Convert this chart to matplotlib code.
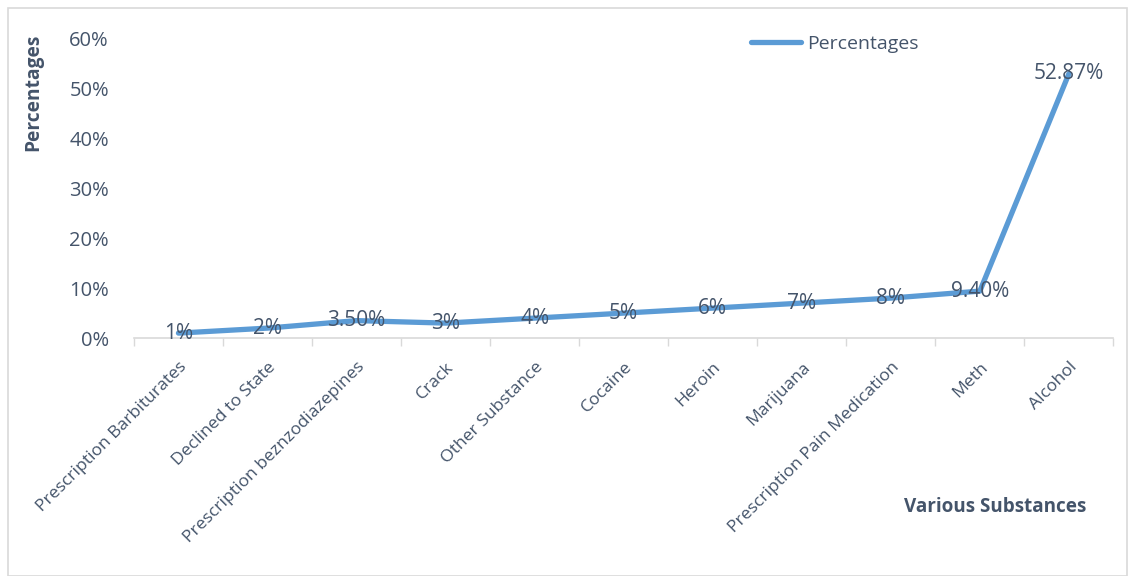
import matplotlib.pyplot as plt
from matplotlib.patches import Rectangle
from matplotlib.ticker import FuncFormatter

plt.rcParams['font.family'] = ['Open Sans', 'DejaVu Sans']

substances = ["Prescription Barbiturates", "Declined to State",
              "Prescription beznzodiazepines", "Crack", "Other Substance",
              "Cocaine", "Heroin", "Marijuana", "Prescription Pain Medication",
              "Meth", "Alcohol"]
shares = [0.01, 0.02, 0.035, 0.03, 0.04, 0.05, 0.06, 0.07, 0.08, 0.094, 0.5287]
value_labels = ["1%", "2%", "3.50%", "3%", "4%", "5%", "6%", "7%", "8%",
                "9.40%", "52.87%"]

text_col = "#44546A"
line_col = "#5B9BD5"
axis_col = "#D9D9D9"

fig = plt.figure(figsize=(11.35, 5.76), dpi=100)
ax = fig.add_axes([0.118, 0.413, 0.863, 0.521])

x = range(len(substances))
ax.plot(x, shares, color=line_col, lw=3.8, solid_capstyle="round",
        solid_joinstyle="round", label="Percentages")

for xi, v, lab in zip(x, shares, value_labels):
    ax.text(xi, v, lab, ha="center", va="center", fontsize=15,
            color=text_col)

ax.set_xlim(-0.5, len(substances) - 0.5)
ax.set_ylim(0, 0.6)
ax.set_yticks([0, 0.1, 0.2, 0.3, 0.4, 0.5, 0.6])
ax.yaxis.set_major_formatter(FuncFormatter(lambda v, p: f"{v * 100:.0f}%"))
ax.tick_params(axis="y", length=0, pad=18, labelsize=14.5, labelcolor=text_col)

ax.set_xticks(list(x))
ax.set_xticklabels(substances, rotation=45, ha="right",
                   rotation_mode="anchor", fontsize=12.6, color=text_col)
ax.set_xticks([i - 0.5 for i in range(len(substances) + 1)], minor=True)
ax.tick_params(axis="x", which="major", length=0, pad=15)
ax.tick_params(axis="x", which="minor", length=6, color=axis_col, width=1)

for side in ["top", "right", "left"]:
    ax.spines[side].set_visible(False)
ax.spines["bottom"].set_color(axis_col)
ax.spines["bottom"].set_linewidth(1.2)

fig.text(0.029, 0.84, "Percentages", rotation=90, ha="center", va="center",
         fontsize=13.8, fontweight="bold", color=text_col)
fig.text(0.877, 0.12, "Various Substances", ha="center", va="center",
         fontsize=13.6, fontweight="bold", color=text_col)

leg = ax.legend(loc="upper left", bbox_to_anchor=(0.612, 1.07), frameon=False,
                fontsize=14, handlelength=2.6, handletextpad=0.3)
for t in leg.get_texts():
    t.set_color(text_col)

fig.patches.append(Rectangle((8 / 1135, 0), 1 - 16 / 1135, 1 - 8 / 576,
                             transform=fig.transFigure, fill=False,
                             edgecolor=axis_col, lw=1.2))

fig.savefig("out.png", dpi=100)
